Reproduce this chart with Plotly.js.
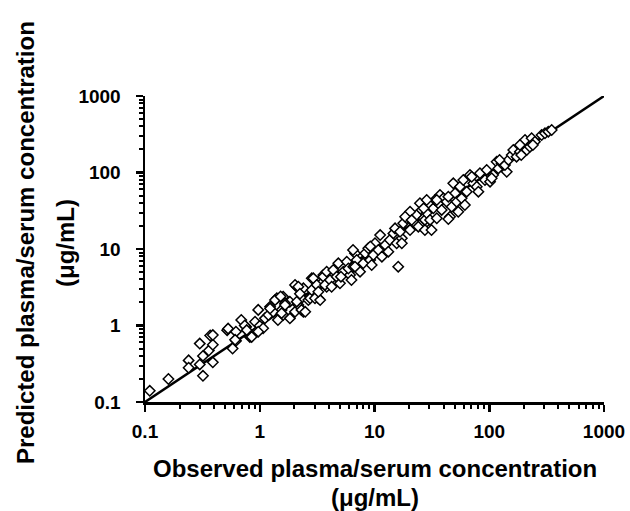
<!DOCTYPE html>
<html>
<head>
<meta charset="utf-8">
<script src="https://cdn.plot.ly/plotly-3.0.1.min.js"></script>
<style>html,body{margin:0;padding:0;background:#fff;}</style>
</head>
<body>
<div id="chart" style="width:630px;height:511px;"></div>
<script>
// Observed vs predicted plasma/serum concentration (µg/mL)
const observed = [
  0.11,0.16,0.24,0.24,0.30,0.37,0.30,0.32,0.36,0.39,0.32,0.39,0.39,
  0.52,0.53,0.58,0.62,0.69,0.62,0.76,0.82,0.91,0.97,0.94,1.0,1.11,1.23,1.19,1.41,1.44,1.6,1.55,1.6,1.83,2.03,2.1,2.17,2.4,2.4,2.31,2.65,2.84,2.93,3.24,3.45,3.58,3.83,3.95,
  0.61,0.74,0.77,0.85,1.07,0.97,1.36,1.31,1.66,1.66,1.55,1.83,2.03,2.17,2.24,2.1,2.31,2.49,2.75,2.93,2.84,3.14,3.03,3.36,3.24,3.58,3.83,3.7,4.1,4.37,4.23,4.68,5.0,4.84,5.35,5.73,6.12,5.92,6.53,6.76,7.0,6.3,5.1,
  6.5,7.48,6.76,7.98,8.3,8.83,9.17,9.77,10.1,10.8,11.2,11.6,12.4,13.2,13.6,14.6,15.1,15.6,17.3,16.1,17.8,19.1,20.4,21.8,23.3,24.1,25.8,26.8,28.5,27.5,16.7,9.45,
  27.5,32.6,33.7,36,37.2,38.5,39.8,42.6,45.5,47.1,48.6,50.4,52,53.7,55.6,57.4,59.4,61.3,63.6,67.9,72.6,77.8,80.4,83,91.8,95,101.6,108,116,120,44,28.5,30.5,34.9,
  105,128,142,137,147,157,162,173,185,198,205,212,226,234,250,286,306,327,350,
  44,70.3,123,185,240,190,24.9,26.8,34.9,28.5,20.4,18.5,9.2,21.1,31.4,17.3,1.23,1.52
];
const predicted = [
  0.14,0.20,0.35,0.28,0.58,0.74,0.31,0.40,0.47,0.56,0.22,0.33,0.75,
  0.87,0.91,0.50,0.63,1.18,0.83,0.96,0.71,1.12,1.6,0.83,0.99,1.24,1.76,1.37,2.27,1.18,2.38,1.6,1.37,2.05,1.51,3.21,1.85,1.51,3.06,2.27,2.15,4.14,2.91,2.27,3.56,4.57,3.21,3.9,
  0.65,1.0,0.87,0.71,0.92,0.83,2.15,1.51,1.95,1.85,1.45,1.24,3.39,3.21,2.6,2.05,1.6,1.51,2.27,4.14,2.91,3.39,2.27,2.15,2.76,4.35,5.05,3.39,3.93,5.31,3.21,4.35,3.56,6.5,5.05,6.82,4.57,5.56,5.87,8.79,7.18,3.93,4.35,
  9.7,5.05,5.87,6.5,8.79,10.2,7.18,8.35,11.9,9.7,15.2,7.94,11.3,9.22,13.1,16.0,18.6,11.9,13.8,5.87,21.7,25.2,17.7,22.7,27.8,19.6,32.4,25.2,22.7,17.7,16.8,6.18,
  24.0,34.0,43.7,39.6,50.8,32.4,46,41.5,26.4,35.7,72.2,53.5,41.5,30.7,65.2,46,79.8,37.6,56.1,92.8,72.2,65.2,56.1,97.7,79.8,108,75.9,92.8,138,113,24.7,29.5,24,25.2,
  84,132,102,125,146,169,197,161,187,241,266,197,217,280,253,309,325,342,359,
  48.3,88,146,229,229,169,39.6,34,43.7,43.7,30.7,26.4,10.8,23.9,17.7,11.9,1.67,2.4
];
const identityLine = [0.1, 1000];
const tickValues = [0.1, 1, 10, 100, 1000];
const tickLabels = ["0.1", "1", "10", "100", "1000"];

const minorVals = [];
for (let e = -1; e < 3; e++) {
  for (let k = 2; k <= 9; k++) minorVals.push(k * Math.pow(10, e));
}

const font = "'Liberation Sans', Arial, sans-serif";

const traces = [
  {
    x: identityLine, y: identityLine, type: 'scatter', mode: 'lines',
    line: {color: '#000', width: 2.5}, hoverinfo: 'skip', showlegend: false, cliponaxis: true
  },
  {
    x: observed, y: predicted, type: 'scatter', mode: 'markers',
    marker: {symbol: 'diamond', size: 8, color: '#fff', line: {color: '#000', width: 1.5}},
    showlegend: false, cliponaxis: false
  }
];

const axisCommon = {
  type: 'log', range: [-1, 3], autorange: false,
  showgrid: false, zeroline: false,
  showline: true, linecolor: '#000', linewidth: 2.5,
  ticks: 'outside', ticklen: 7, tickwidth: 2.5, tickcolor: '#000',
  tickmode: 'array', tickvals: tickValues, ticktext: tickLabels,
  tickfont: {family: font, size: 19, color: '#000', weight: 'bold'},
  minor: {tickmode: 'array', tickvals: minorVals, ticks: 'outside', ticklen: 4, tickwidth: 2, tickcolor: '#000', showgrid: false}
};

const layout = {
  width: 630, height: 511,
  margin: {l: 145, r: 26, t: 96, b: 109},
  paper_bgcolor: '#fff', plot_bgcolor: '#fff',
  showlegend: false,
  xaxis: Object.assign({}, axisCommon, {ticklabelstandoff: 4}),
  yaxis: Object.assign({}, axisCommon, {ticklabelstandoff: 11}),
  annotations: [
    {text: '<b>Observed plasma/serum concentration</b>', xref: 'paper', yref: 'paper', x: 0.5, y: 0, yshift: -66,
     showarrow: false, xanchor: 'center', yanchor: 'middle', font: {family: font, size: 24, color: '#000'}},
    {text: '<b>(μg/mL)</b>', xref: 'paper', yref: 'paper', x: 0.5, y: 0, yshift: -95,
     showarrow: false, xanchor: 'center', yanchor: 'middle', font: {family: font, size: 24, color: '#000'}},
    {text: '<b>Predicted plasma/serum concentration</b>', xref: 'paper', yref: 'paper', x: 0, y: 0.5, xshift: -120, yshift: 6,
     textangle: -90, showarrow: false, xanchor: 'center', yanchor: 'middle', font: {family: font, size: 24, color: '#000'}},
    {text: '<b>(μg/mL)</b>', xref: 'paper', yref: 'paper', x: 0, y: 0.5, xshift: -80, yshift: 6,
     textangle: -90, showarrow: false, xanchor: 'center', yanchor: 'middle', font: {family: font, size: 24, color: '#000'}}
  ]
};

Plotly.newPlot('chart', traces, layout, {staticPlot: true, displayModeBar: false});
</script>
</body>
</html>
